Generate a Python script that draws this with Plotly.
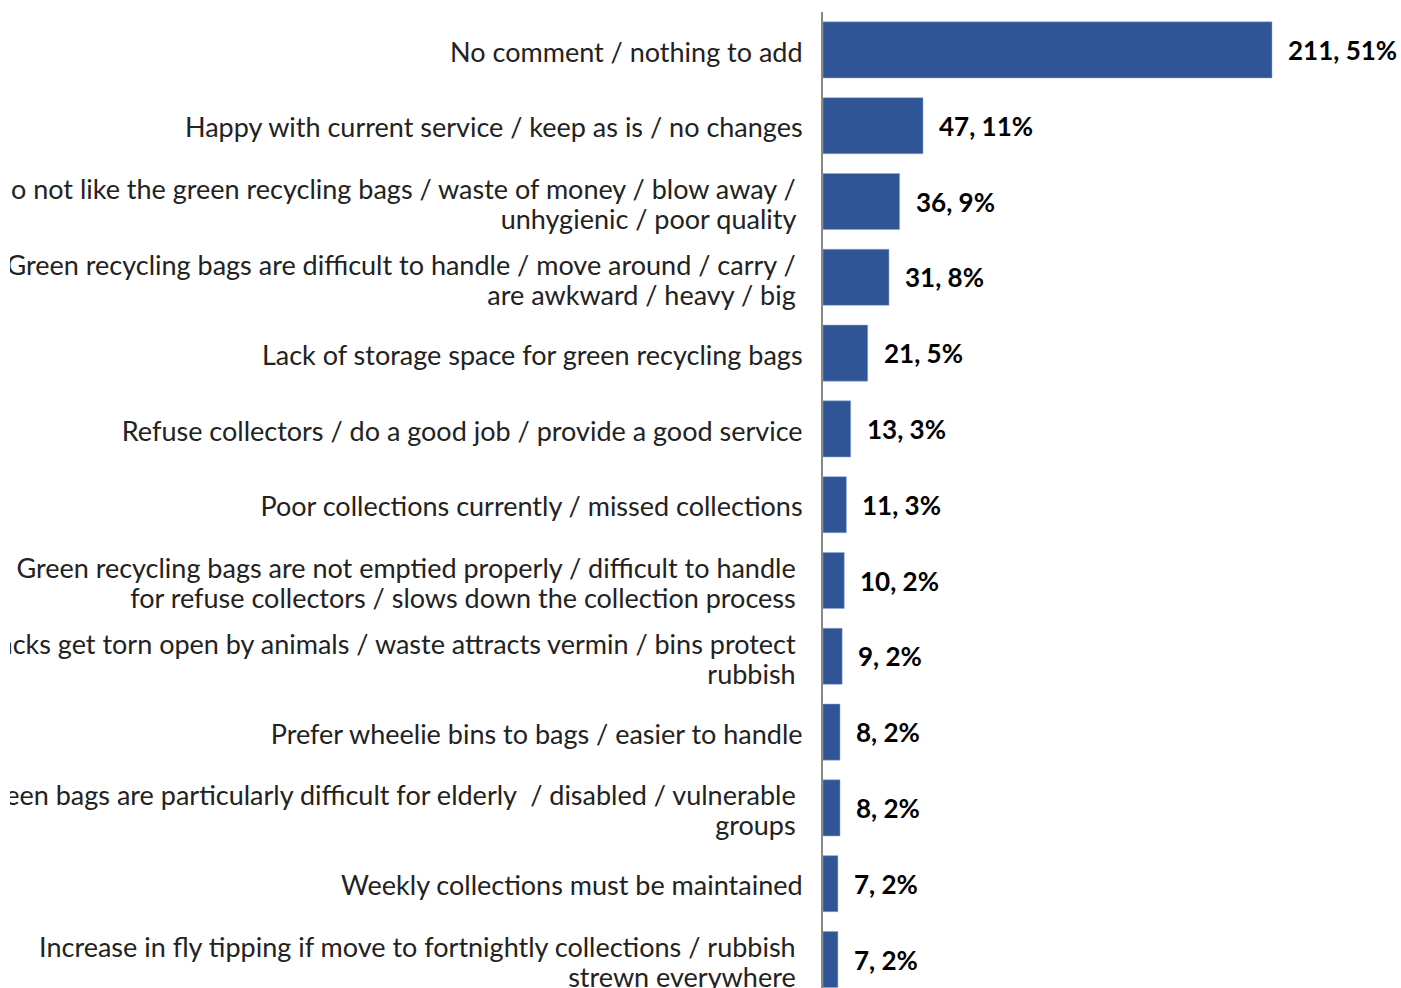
import plotly.graph_objects as go

categories = [
    "No comment / nothing to add",
    "Happy with current service / keep as is / no changes",
    "Do not like the green recycling bags / waste of money / blow away /\nunhygienic / poor quality",
    "Green recycling bags are difficult to handle / move around / carry /\nare awkward / heavy / big",
    "Lack of storage space for green recycling bags",
    "Refuse collectors / do a good job / provide a good service",
    "Poor collections currently / missed collections",
    "Green recycling bags are not emptied properly / difficult to handle\nfor refuse collectors / slows down the collection process",
    "Sacks get torn open by animals / waste attracts vermin / bins protect\nrubbish",
    "Prefer wheelie bins to bags / easier to handle",
    "Green bags are particularly difficult for elderly  / disabled / vulnerable\ngroups",
    "Weekly collections must be maintained",
    "Increase in fly tipping if move to fortnightly collections / rubbish\nstrewn everywhere",
]
counts = [211, 47, 36, 31, 21, 13, 11, 10, 9, 8, 8, 7, 7]
percents = [51, 11, 9, 8, 5, 3, 3, 2, 2, 2, 2, 2, 2]

labels = [f"{c}, {p}%" for c, p in zip(counts, percents)]
idx = list(range(len(categories)))

# tick labels: wrapped categories are drawn one line per tick so the
# line spacing matches the original (tight) spacing
row_px = 75.8
tickvals, ticktext = [], []
for i, c in enumerate(categories):
    lines = c.split("\n")
    if len(lines) == 1:
        tickvals.append(i + 0.03)
        ticktext.append(lines[0])
    else:
        offs = [-12 / row_px, 18 / row_px]
        for o, ln in zip(offs, lines):
            tickvals.append(i + o)
            ticktext.append(ln + "\u00a0")

fig = go.Figure()
fig.add_trace(go.Bar(
    y=idx, x=counts, orientation="h",
    marker=dict(color="#2F5597", line=dict(color="#8FAADC", width=0.5)),
    width=0.74,
    hoverinfo="skip",
))

for i, (v, t) in enumerate(zip(counts, labels)):
    fig.add_annotation(
        x=v, y=i, text=f"<b>{t}</b>", showarrow=False,
        xanchor="left", yanchor="middle", xshift=14,
        font=dict(family="Lato", size=26, color="#000000"),
    )

W, H = 1401, 988
left = 823
top = 12
plot_w = W - left
px_per_unit = 449 / 211

# the original picture is cropped at its left edge (about 10 px in)
clip_px = 10
fig.add_shape(
    type="rect", xref="paper", yref="paper", layer="above",
    x0=-left / plot_w, x1=(clip_px - left) / plot_w, y0=-0.05, y1=1.05,
    fillcolor="white", line=dict(width=0),
)

fig.update_layout(
    width=W, height=H,
    margin=dict(l=left, r=0, t=top, b=0, autoexpand=False),
    plot_bgcolor="white", paper_bgcolor="white",
    showlegend=False,
)
fig.update_xaxes(range=[0, plot_w / px_per_unit], visible=False, fixedrange=True,
                 automargin=False)
plot_h = H - top
span = plot_h / row_px
fig.update_yaxes(
    range=[-0.5 + span, -0.5],
    tickmode="array", tickvals=tickvals, ticktext=ticktext,
    showline=True, linecolor="#888888", linewidth=2,
    ticks="", showgrid=False, zeroline=False,
    automargin=False,
    ticklabelstandoff=13,
    ticklabeloverflow="allow",
    tickfont=dict(family="Lato", size=27, color="#222222"),
    fixedrange=True,
)
fig.write_html(
    "out.html",
    config={"displayModeBar": False},
    post_script="document.body.style.margin='0';document.body.style.overflow='hidden';",
)
